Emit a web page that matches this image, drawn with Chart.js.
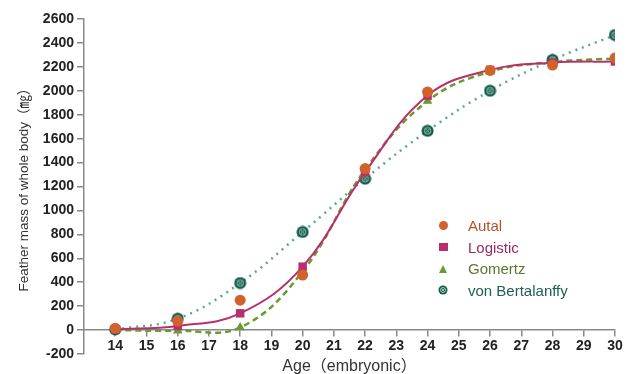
<!DOCTYPE html>
<html>
<head>
<meta charset="utf-8">
<script src="https://cdn.jsdelivr.net/npm/chart.js@4.4.0/dist/chart.umd.min.js"></script>
<style>
  html, body { margin: 0; padding: 0; background: #fff; }
  #wrap { position: relative; width: 633px; height: 374px; }
  #legend { position: absolute; left: 436px; top: 215px; font: 15px 'Liberation Sans', Arial, sans-serif; }
  .row { height: 21.5px; display: flex; align-items: center; }
  .mk { width: 14px; height: 14px; margin-right: 18px; display: flex; align-items: center; justify-content: center; }
</style>
</head>
<body>
<div id="wrap">
  <canvas id="chart" width="633" height="374"></canvas>
  <div id="legend"></div>
</div>
<script>
// データ
var ages = [14, 16, 18, 20, 22, 24, 26, 28, 30];
var ageTicks = [14, 15, 16, 17, 18, 19, 20, 21, 22, 23, 24, 25, 26, 27, 28, 29, 30];
var autal = [15, 75, 250, 460, 1350, 1990, 2170, 2215, 2275];
var logistic = [5, 35, 140, 530, 1320, 1960, 2175, 2235, 2245];
var gomertz = [0, -5, 22, 490, 1340, 1915, 2160, 2240, 2270];
var bertalanffy = [5, 95, 393, 820, 1265, 1665, 2000, 2258, 2466];
var seriesNames = ['Autal', 'Logistic', 'Gomertz', 'von Bertalanffy'];

var fontFam = "'Liberation Sans', 'Noto Sans CJK SC', Arial, sans-serif";

// ⊗ マーカー
function crossDot(size) {
  var c = document.createElement('canvas');
  c.width = size; c.height = size;
  var g = c.getContext('2d');
  var r = size / 2;
  g.fillStyle = '#105a47';
  g.beginPath(); g.arc(r, r, r - 0.5, 0, Math.PI * 2); g.fill();
  g.strokeStyle = '#9fc9bd';
  g.lineWidth = 1;
  g.beginPath(); g.arc(r, r, r * 0.5, 0, Math.PI * 2); g.stroke();
  var d = r * 0.35;
  g.beginPath();
  g.moveTo(r - d, r - d); g.lineTo(r + d, r + d);
  g.moveTo(r + d, r - d); g.lineTo(r - d, r + d);
  g.stroke();
  return c;
}

function pts(arr) {
  return ages.map(function (a, i) { return { x: a, y: arr[i] }; });
}

var ctx = document.getElementById('chart').getContext('2d');

var chart = new Chart(ctx, {
  type: 'line',
  data: {
    datasets: [{
      label: seriesNames[0],
      data: pts(autal),
      showLine: false,
      pointStyle: 'circle',
      pointRadius: 5.5,
      backgroundColor: '#d2622b',
      borderColor: '#d2622b',
      borderWidth: 0
    }, {
      label: seriesNames[1],
      data: pts(logistic),
      borderColor: '#b8306b',
      borderWidth: 2,
      tension: 0.4,
      pointStyle: 'rect',
      pointRadius: 6,
      pointBackgroundColor: '#b8306b',
      pointBorderWidth: 0
    }, {
      label: seriesNames[2],
      data: pts(gomertz),
      borderColor: '#6c9a32',
      borderWidth: 2.5,
      borderDash: [6, 4],
      tension: 0.4,
      pointStyle: 'triangle',
      pointRadius: 5.5,
      pointBackgroundColor: '#6c9a32',
      pointBorderWidth: 0
    }, {
      label: seriesNames[3],
      data: pts(bertalanffy),
      borderColor: '#5aa69b',
      borderWidth: 2.5,
      borderDash: [2, 5],
      tension: 0.4,
      pointStyle: crossDot(13),
      pointBorderWidth: 0
    }]
  },
  options: {
    responsive: false,
    animation: false,
    layout: { padding: { left: 8, right: 18, top: 19, bottom: 20 } },
    plugins: { legend: { display: false }, tooltip: { enabled: false } },
    scales: {
      x: {
        type: 'linear',
        position: { y: 0 },
        min: 13,
        max: 30,
        afterBuildTicks: function (scale) {
          scale.ticks = ageTicks.map(function (v) { return { value: v }; });
        },
        border: { color: '#8a8a8a', width: 1.5 },
        grid: { drawOnChartArea: false, tickLength: 6, color: '#8a8a8a', lineWidth: 1.5 },
        ticks: { color: '#222', padding: 2, maxRotation: 0, autoSkip: false, font: { family: fontFam, size: 14, weight: 'bold' } },
        title: { display: true, text: 'Age（embryonic）', color: '#333', padding: { top: 0, bottom: 0 }, font: { family: fontFam, size: 16 } }
      },
      y: {
        min: -200,
        max: 2600,
        afterFit: function (scale) { scale.width = 76; },
        border: { color: '#8a8a8a', width: 1.5 },
        grid: { drawOnChartArea: false, tickLength: 7, color: '#8a8a8a', lineWidth: 1.5 },
        ticks: {
          stepSize: 200, color: '#222', padding: 3,
          font: { family: fontFam, size: 14, weight: 'bold' },
          callback: function (v) { return String(v); }
        },
        title: { display: true, text: 'Feather mass of whole body（㎎）', color: '#333', padding: { top: 8, bottom: 0 }, font: { family: fontFam, size: 13.5 } }
      }
    }
  }
});

// 凡例（HTML）
var legendColors = ['#b4512a', '#9a2a60', '#58792d', '#1f5e50'];
var legend = document.getElementById('legend');
seriesNames.forEach(function (name, i) {
  var row = document.createElement('div');
  row.className = 'row';
  var mk = document.createElement('div');
  mk.className = 'mk';
  var s;
  if (i === 0) {
    s = document.createElement('div');
    s.style.cssText = 'width:9px;height:9px;border-radius:50%;background:#d2622b';
  } else if (i === 1) {
    s = document.createElement('div');
    s.style.cssText = 'width:9px;height:8px;background:#b8306b';
  } else if (i === 2) {
    s = document.createElement('div');
    s.style.cssText = 'width:0;height:0;border-left:4.5px solid transparent;border-right:4.5px solid transparent;border-bottom:8px solid #6c9a32';
  } else {
    s = crossDot(10);
  }
  mk.appendChild(s);
  var t = document.createElement('span');
  t.textContent = name;
  t.style.color = legendColors[i];
  row.appendChild(mk);
  row.appendChild(t);
  legend.appendChild(row);
});
</script>
</body>
</html>
